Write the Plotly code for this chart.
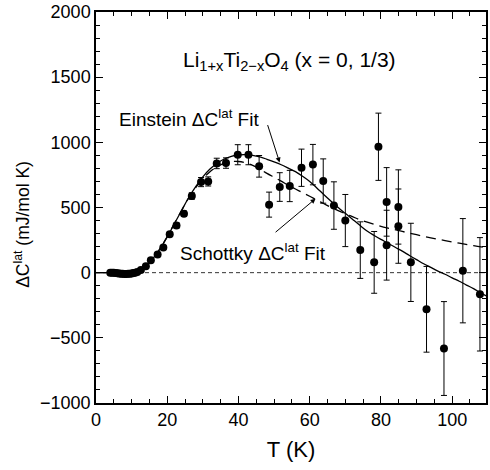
import plotly.graph_objects as go

# Measured data (T in K, ΔC_lat in mJ/mol K)
T_data = [4.0, 4.5, 5.0, 5.5, 6.0, 6.5, 7.0, 7.5, 8.0, 8.5, 9.0, 9.5, 10.0, 10.5, 11.0, 11.6, 12.6,
          14.0, 15.4, 17.3, 18.9, 20.7, 22.6, 24.7, 26.9, 29.5, 31.5, 33.9, 36.5, 39.8, 42.8,
          45.8, 48.6, 51.6, 54.4, 57.7, 60.9, 63.8, 66.8, 70.0, 74.2, 78.1, 79.3, 81.6, 81.6,
          84.9, 84.9, 88.4, 92.8, 97.7, 103.0, 107.8]
C_data = [0, 0, 0, -3, -5, -7, -8, -9, -10, -10, -9, -8, -6, -3, 0, 6, 20,
          50, 96, 140, 193, 295, 362, 453, 588, 695, 700, 838, 841, 905, 905,
          816, 522, 657, 665, 805, 829, 703, 515, 400, 173, 79, 966, 543, 211,
          504, 357, 79, -281, -582, 15, -166]
C_err = [0, 0, 0, 0, 0, 0, 0, 0, 0, 0, 0, 0, 0, 0, 0, 0, 0,
         15, 15, 15, 15, 15, 20, 20, 25, 35, 35, 40, 40, 77, 77,
         83, 96, 110, 120, 143, 155, 170, 182, 200, 217, 237, 258, 263, 268,
         285, 285, 300, 329, 360, 400, 435]

# Einstein fit curve (solid)
T_ein = [0, 5, 8, 10, 12, 14, 16, 18, 20, 22, 24, 26, 28, 30, 32, 34, 36, 38, 40, 42, 44, 46,
         48, 50, 52, 54, 56, 58, 60, 62, 64, 66, 68, 70, 72, 74, 76, 78, 80, 82, 84, 86, 88,
         90, 92, 94, 96, 98, 100, 102, 104, 106, 108, 110]
C_ein = [0, 0, 2, 8, 22, 55, 110, 185, 275, 375, 475, 575, 660, 735, 795, 840, 872, 893, 903, 905, 900, 888,
         870, 850, 828, 802, 775, 740, 700, 650, 598, 548, 500, 455, 410, 365, 322, 287, 255, 226, 195, 165, 132,
         100, 68, 40, 12, -12, -40, -66, -95, -122, -155, -185]

# Schottky fit curve (dashed)
T_sch = [0, 5, 8, 10, 12, 14, 16, 18, 20, 22, 24, 26, 28, 30, 32, 34, 36, 38, 40, 42, 44, 46,
         48, 50, 52, 54, 56, 58, 60, 62, 64, 66, 68, 70, 72, 74, 78, 82, 86, 90, 94, 98, 102, 106, 110]
C_sch = [0, 0, 2, 8, 22, 55, 110, 185, 277, 377, 476, 572, 652, 720, 775, 812, 838, 852, 853, 843, 823, 795,
         762, 732, 702, 670, 642, 614, 586, 557, 529, 501, 476, 452, 430, 407, 372, 342, 316, 291, 267, 246, 226, 207, 190]

FONT = "Liberation Sans, Arial, Helvetica, sans-serif"

fig = go.Figure()

fig.add_trace(go.Scatter(
    x=T_ein, y=C_ein, mode="lines", line=dict(color="black", width=1.3, shape="spline"),
    showlegend=False, hoverinfo="skip"))
fig.add_trace(go.Scatter(
    x=T_sch, y=C_sch, mode="lines", line=dict(color="black", width=1.3, dash="10px,6px", shape="spline"),
    showlegend=False, hoverinfo="skip"))
fig.add_trace(go.Scatter(
    x=T_data, y=C_data, mode="markers",
    marker=dict(color="black", size=8, line=dict(width=0)),
    error_y=dict(type="data", array=C_err, visible=True, color="black", thickness=1, width=3),
    showlegend=False))

# zero line
fig.add_shape(type="line", xref="x domain", yref="y", x0=0, x1=1, y0=0, y1=0,
              line=dict(color="#333333", width=1, dash="4px,3px"), layer="below")

annotations = [
    dict(x=54.4, y=1625, xref="x", yref="y", showarrow=False,
         text="Li<sub>1+x</sub>Ti<sub>2\u2212x</sub>O<sub>4</sub> (x = 0, 1/3)",
         font=dict(size=21, color="black", family=FONT)),
    dict(x=26.0, y=1190, xref="x", yref="y", showarrow=False,
         text="Einstein \u0394C<sup>lat</sup> Fit",
         font=dict(size=19, color="black", family=FONT)),
    dict(x=44.2, y=162, xref="x", yref="y", showarrow=False,
         text="Schottky \u0394C<sup>lat</sup> Fit",
         font=dict(size=19, color="black", family=FONT)),
    dict(x=51.55, y=846, xref="x", yref="y", ax=48.06, ay=1144, axref="x", ayref="y",
         text="", showarrow=True, arrowhead=2, arrowsize=1, arrowwidth=1, arrowcolor="black"),
    dict(x=61.65, y=568, xref="x", yref="y", ax=50.0, ay=301, axref="x", ayref="y",
         text="", showarrow=True, arrowhead=2, arrowsize=1, arrowwidth=1, arrowcolor="black"),
    # y-axis title
    dict(x=-0.19, y=0.458, xref="paper", yref="paper", showarrow=False, textangle=-90,
         xanchor="center", yanchor="middle",
         text="\u0394C<sup>lat</sup> (mJ/mol K)",
         font=dict(size=17.5, color="black", family=FONT)),
]

axis_common = dict(
    showline=True, linecolor="black", linewidth=1.5, mirror="ticks",
    ticks="inside", ticklen=7, tickwidth=1.2, tickcolor="black",
    showgrid=False, zeroline=False,
    tickfont=dict(size=18, color="black", family=FONT),
)

fig.update_layout(
    width=490, height=470,
    margin=dict(l=96, r=2, t=11, b=67),
    plot_bgcolor="white", paper_bgcolor="white",
    annotations=annotations,
    xaxis=dict(range=[0, 109.5], tick0=0, dtick=20,
               minor=dict(ticks="inside", dtick=5, ticklen=4, tickcolor="black", tickwidth=1),
               title=dict(text="T (K)", font=dict(size=22, color="black", family=FONT), standoff=12),
               **axis_common),
    yaxis=dict(range=[-1000, 2000], tick0=0, dtick=500,
               minor=dict(ticks="inside", dtick=100, ticklen=4, tickcolor="black", tickwidth=1),
               **axis_common),
)

fig.write_html("out.html")
